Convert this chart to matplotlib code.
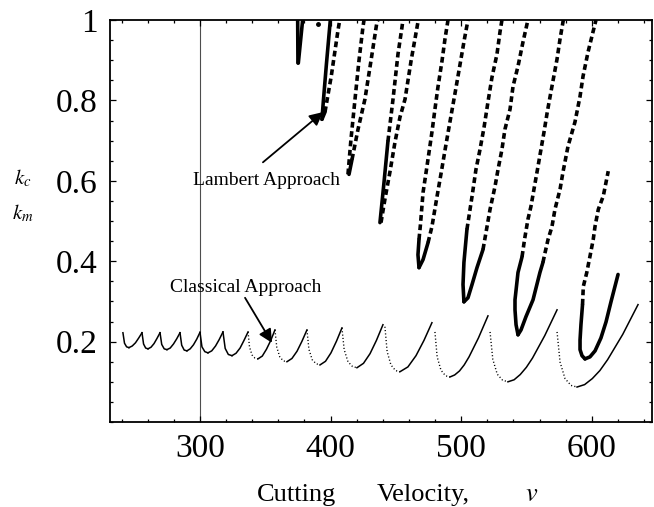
import matplotlib
matplotlib.use("Agg")
import matplotlib.pyplot as plt
from matplotlib.ticker import MultipleLocator

plt.rcParams["font.family"] = ["Liberation Serif", "DejaVu Serif"]
plt.rcParams["mathtext.fontset"] = "stix"

# classical approach: each lobe = falling part + rising part
cls_fall_v = [
    [241.0, 242.2, 243.8, 245.6], [255.6, 256.8, 258.4, 260.2], [269.4, 270.7, 272.6, 274.7],
    [284.7, 286.0, 287.9, 290.0], [300.0, 301.5, 303.7, 306.1], [317.6, 319.3, 321.7, 324.5],
    [336.8, 337.9, 339.8, 342.1, 344.4], [357.4, 358.8, 361.1, 363.8, 366.6],
    [381.9, 383.4, 385.9, 388.9, 391.9], [408.7, 410.4, 413.3, 416.8, 420.2],
    [441.6, 443.3, 446.2, 449.7, 453.1], [479.9, 481.6, 484.5, 488.0, 491.4],
    [522.1, 524.2, 527.6, 531.7, 535.8], [573.4, 575.7, 579.5, 584.1, 588.7],
]
cls_fall_k = [
    [0.222, 0.196, 0.187, 0.185], [0.222, 0.194, 0.184, 0.182], [0.222, 0.193, 0.182, 0.180],
    [0.222, 0.191, 0.179, 0.177], [0.223, 0.187, 0.175, 0.172], [0.224, 0.183, 0.168, 0.165],
    [0.224, 0.187, 0.167, 0.159, 0.157], [0.229, 0.186, 0.162, 0.152, 0.150],
    [0.229, 0.181, 0.155, 0.145, 0.142], [0.234, 0.180, 0.150, 0.138, 0.135],
    [0.237, 0.175, 0.142, 0.128, 0.125], [0.224, 0.162, 0.129, 0.115, 0.112],
    [0.224, 0.156, 0.119, 0.104, 0.100], [0.224, 0.149, 0.108, 0.091, 0.087],
]
cls_rise_v = [
    [245.6, 248.1, 250.6, 253.1, 255.6], [260.2, 262.5, 264.8, 267.1, 269.4],
    [274.7, 277.2, 279.7, 282.2, 284.7], [290.0, 292.5, 295.0, 297.5, 300.0],
    [306.1, 309.0, 311.9, 314.7, 317.6], [324.5, 327.6, 330.7, 333.7, 336.8],
    [344.4, 347.7, 350.9, 354.2, 357.4], [366.6, 370.4, 374.3, 378.1, 381.9],
    [391.9, 396.1, 400.3, 404.5, 408.7], [420.2, 425.2, 430.2, 435.1, 440.1],
    [453.1, 459.2, 465.4, 471.5, 477.6],
    [491.4, 495.0, 498.7, 502.3, 506.0, 513.2, 520.5],
    [535.8, 540.5, 545.2, 549.9, 554.6, 564.0, 573.4],
    [588.7, 594.5, 600.4, 606.2, 612.1, 623.7, 635.4],
]
cls_rise_k = [
    [0.185, 0.189, 0.197, 0.209, 0.222], [0.182, 0.186, 0.195, 0.208, 0.222],
    [0.180, 0.184, 0.194, 0.207, 0.222], [0.177, 0.182, 0.192, 0.206, 0.223],
    [0.172, 0.177, 0.189, 0.205, 0.224], [0.165, 0.171, 0.184, 0.203, 0.224],
    [0.157, 0.164, 0.181, 0.203, 0.229], [0.150, 0.158, 0.176, 0.201, 0.229],
    [0.142, 0.151, 0.172, 0.201, 0.234], [0.135, 0.146, 0.170, 0.203, 0.242],
    [0.125, 0.137, 0.165, 0.203, 0.247],
    [0.112, 0.117, 0.127, 0.142, 0.162, 0.209, 0.264],
    [0.100, 0.105, 0.118, 0.136, 0.159, 0.215, 0.279],
    [0.087, 0.093, 0.108, 0.128, 0.155, 0.218, 0.292],
]

# Lambert approach: U shaped lobes, both branches listed from the bottom up
lam_left_v = [
    [375.0, 374.8],
    [393.4, 394.5, 396.8, 399.8],
    [413.3, 415.6, 418.7, 421.7, 424.8, 425.6],
    [437.8, 440.9, 443.9, 447.8, 451.6, 454.7, 455.4],
    [467.7, 466.9, 467.7, 468.8, 470.8, 473.8, 477.6, 479.9, 482.2, 485.3, 487.6, 489.9],
    [502.1, 501.4, 502.1, 504.4, 508.3, 511.3, 514.4, 517.5, 520.5, 523.6, 527.4, 529.7, 531.2],
    [543.5, 542.0, 541.2, 541.2, 543.5, 546.6, 548.5, 551.1, 553.4, 556.1, 558.4, 560.7,
     563.4, 565.9, 569.5, 573.4, 575.7, 578.2],
    [594.8, 592.5, 591.0, 591.0, 591.7, 592.9, 593.5, 596.1, 598.6, 601.1, 602.5, 605.0,
     608.8, 612.6],
]
lam_left_k = [
    [0.893, 1.0],
    [0.753, 0.80, 0.89, 1.0],
    [0.616, 0.703, 0.803, 0.898, 0.983, 1.0],
    [0.496, 0.596, 0.698, 0.803, 0.915, 0.983, 1.0],
    [0.384, 0.416, 0.454, 0.491, 0.571, 0.636, 0.721, 0.778, 0.833, 0.898, 0.953, 1.0],
    [0.299, 0.342, 0.397, 0.479, 0.561, 0.628, 0.678, 0.733, 0.796, 0.858, 0.915, 0.970, 1.0],
    [0.217, 0.242, 0.279, 0.304, 0.372, 0.411, 0.454, 0.504, 0.536, 0.586, 0.628, 0.671,
     0.721, 0.771, 0.835, 0.903, 0.953, 1.0],
    [0.157, 0.165, 0.180, 0.204, 0.242, 0.292, 0.337, 0.371, 0.412, 0.454, 0.487, 0.529,
     0.562, 0.624],
]
lam_right_v = [
    [375.3, 378.6],
    [393.4, 395.7, 400.5, 405.7, 407.0],
    [414.1, 416.4, 421.0, 426.3, 430.9, 435.5, 436.3],
    [438.6, 441.6, 445.5, 449.3, 453.1, 457.0, 461.6, 466.9, 467.7],
    [467.7, 470.8, 474.6, 477.6, 481.5, 485.1, 487.7, 490.0, 493.1, 495.4, 498.5, 502.5, 505.2],
    [502.1, 505.2, 508.3, 512.1, 516.7, 522.1, 525.9, 528.2, 531.2, 533.5, 537.4, 539.7,
     543.5, 547.3, 550.4, 551.1],
    [543.5, 545.8, 549.6, 555.0, 560.3, 562.6, 564.2, 566.5, 569.5, 571.8, 575.7, 577.9,
     581.8, 587.1, 591.0, 593.3, 597.1, 600.9, 603.2],
    [594.8, 598.6, 602.5, 607.0, 610.9, 614.7, 620.1],
]
lam_right_k = [
    [0.893, 1.0],
    [0.753, 0.771, 0.86, 0.975, 1.0],
    [0.616, 0.653, 0.728, 0.803, 0.898, 0.995, 1.0],
    [0.496, 0.554, 0.623, 0.696, 0.758, 0.803, 0.898, 0.995, 1.0],
    [0.384, 0.404, 0.446, 0.486, 0.561, 0.628, 0.678, 0.721, 0.778, 0.820, 0.878, 0.953, 1.0],
    [0.299, 0.309, 0.342, 0.384, 0.429, 0.529, 0.586, 0.628, 0.678, 0.728, 0.778, 0.835,
     0.885, 0.945, 0.990, 1.0],
    [0.217, 0.229, 0.262, 0.304, 0.372, 0.397, 0.421, 0.454, 0.486, 0.529, 0.579, 0.621,
     0.686, 0.746, 0.810, 0.860, 0.920, 0.970, 1.0],
    [0.157, 0.162, 0.177, 0.209, 0.249, 0.299, 0.367],
]
lam_dot_v = [390.4]
lam_dot_k = [0.99]

x_ticks = [300, 400, 500, 600]
y_ticks = [0.2, 0.4, 0.6, 0.8, 1.0]
y_tick_labels = ["0.2", "0.4", "0.6", "0.8", "1"]

# styling: branch drawn solid up to this k, dashed above
left_solid_to = [1.0, 1.0, 0.70, 0.80, 0.48, 0.48, 0.42, 0.33]
right_solid_to = [1.0, 0.85, 0.68, 0.55, 0.46, 0.43, 0.40, 1.0]
dotted_fall_from = 6


def draw_branch(ax, v, k, k_solid):
    n = len([kk for kk in k if kk <= k_solid])
    n = max(n, 1)
    ax.plot(v[:n], k[:n], color="black", lw=2.6, solid_capstyle="round",
            solid_joinstyle="round")
    if n < len(v):
        ax.plot(v[n - 1:], k[n - 1:], color="black", lw=2.6,
                linestyle=(0, (1.6, 1.0)), dash_capstyle="butt")


fig = plt.figure(figsize=(6.54, 5.07), dpi=100)
ax = fig.add_axes([110 / 654, 85 / 507, 542 / 654, 402 / 507])

ax.axvline(300, color="0.3", lw=0.8, zorder=0)

for i in range(len(cls_rise_v)):
    if i >= dotted_fall_from:
        ax.plot(cls_fall_v[i], cls_fall_k[i], color="black", lw=1.0,
                linestyle=(0, (0.8, 1.6)))
    else:
        ax.plot(cls_fall_v[i], cls_fall_k[i], color="black", lw=1.1)
    ax.plot(cls_rise_v[i], cls_rise_k[i], color="black", lw=1.1)

for i in range(len(lam_left_v)):
    draw_branch(ax, lam_left_v[i], lam_left_k[i], left_solid_to[i])
    draw_branch(ax, lam_right_v[i], lam_right_k[i], right_solid_to[i])
ax.plot(lam_dot_v, lam_dot_k, "o", color="black", ms=2.5)

ax.annotate("", xy=(394.2, 0.771), xytext=(348.2, 0.646),
            arrowprops=dict(arrowstyle="-|>", color="black", lw=1.3,
                            mutation_scale=20, shrinkA=0, shrinkB=0))
ax.annotate("", xy=(355.1, 0.197), xytext=(334.5, 0.309),
            arrowprops=dict(arrowstyle="-|>", color="black", lw=1.3,
                            mutation_scale=20, shrinkA=0, shrinkB=0))
ax.text(294.6, 0.589, "Lambert Approach", fontsize=14, ha="left", va="baseline")
ax.text(277.0, 0.324, "Classical Approach", fontsize=14, ha="left", va="baseline")

ax.set_xlim(231.1, 646.1)
ax.set_ylim(0, 1.0)
ax.set_xticks(x_ticks)
ax.set_yticks(y_ticks)
ax.set_yticklabels(y_tick_labels)
ax.xaxis.set_minor_locator(MultipleLocator(20))
ax.yaxis.set_minor_locator(MultipleLocator(0.05))
ax.tick_params(which="both", direction="in", top=True, right=True, width=0.9)
ax.tick_params(which="major", length=4.5, labelsize=24)
ax.tick_params(which="minor", length=2.5)
ax.tick_params(axis="x", which="major", pad=8)
ax.tick_params(axis="y", which="major", pad=9)
for s in ax.spines.values():
    s.set_linewidth(1.3)

fig.text(23 / 654, 1 - 178 / 507, "$k_c$", fontsize=15, ha="center", va="center")
fig.text(23 / 654, 1 - 213 / 507, "$k_m$", fontsize=15, ha="center", va="center")
fig.text(257 / 654, 1 - 501 / 507, "Cutting", fontsize=19, ha="left", va="baseline")
fig.text(377 / 654, 1 - 501 / 507, "Velocity,", fontsize=19, ha="left", va="baseline")
fig.text(525 / 654, 1 - 501 / 507, "$v$", fontsize=19, ha="left", va="baseline")

fig.savefig("out.png", dpi=100)
